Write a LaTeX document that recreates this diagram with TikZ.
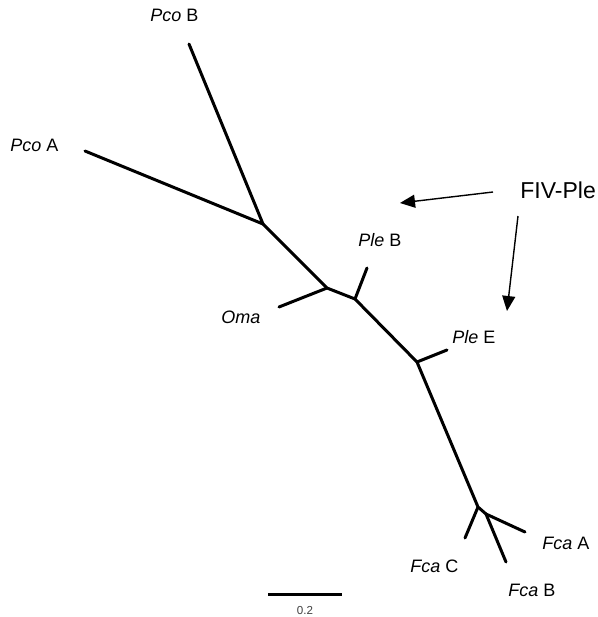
\documentclass[tikz,border=0pt]{standalone}
\usepackage{fontspec}
\setmainfont{Liberation Sans}
\usetikzlibrary{arrows.meta}

\begin{document}
\begin{tikzpicture}[
    x=0.5pt, y=-0.5pt,
    branch/.style={line width=1.5pt, line cap=round, line join=round},
    lbl/.style={anchor=west, inner sep=0pt, font=\fontsize{9}{10}\selectfont},
    arr/.style={line width=0.7pt, -{Triangle[length=7.5pt, width=6.5pt]}},
    scalebar/.style={line width=1.5pt}
  ]
  \useasboundingbox (0,0) rectangle (598,617);

  % ---- internal nodes of the tree ----
  \coordinate (n1) at (263,224);
  \coordinate (n2) at (327,288);
  \coordinate (n3) at (355,299);
  \coordinate (n4) at (417,362);
  \coordinate (n5) at (478,507);
  \coordinate (n6) at (486,514);

  % ---- tips ----
  \coordinate (tPcoB) at (189,44);
  \coordinate (tPcoA) at (85,151);
  \coordinate (tOma)  at (279,307);
  \coordinate (tPleB) at (367,268);
  \coordinate (tPleE) at (447,350);
  \coordinate (tFcaC) at (465,538);
  \coordinate (tFcaA) at (525,532);
  \coordinate (tFcaB) at (506,562);

  % ---- branches ----
  \draw[branch] (tPcoB) -- (n1) -- (tPcoA);
  \draw[branch] (n1) -- (n2) -- (n3) -- (n4) -- (n5) -- (n6);
  \draw[branch] (n2) -- (tOma);
  \draw[branch] (n3) -- (tPleB);
  \draw[branch] (n4) -- (tPleE);
  \draw[branch] (n5) -- (tFcaC);
  \draw[branch] (n6) -- (tFcaA);
  \draw[branch] (n6) -- (tFcaB);

  % ---- tip labels ----
  \node[lbl] (PcoB) at (150,15)  {\textit{Pco} B};
  \node[lbl] (PcoA) at (10,145)  {\textit{Pco} A};
  \node[lbl] (Oma)  at (221,317) {\textit{Oma}};
  \node[lbl] (PleB) at (358,240) {\textit{Ple} B};
  \node[lbl] (PleE) at (452,337) {\textit{Ple} E};
  \node[lbl] (FcaA) at (542,543) {\textit{Fca} A};
  \node[lbl] (FcaC) at (410,566) {\textit{Fca} C};
  \node[lbl] (FcaB) at (508,590) {\textit{Fca} B};

  % ---- FIV-Ple pointers ----
  \node[lbl, font=\fontsize{11.5}{13}\selectfont] (fiv) at (520,190) {FIV-Ple};
  \coordinate (a1s) at (493,192);
  \coordinate (a1e) at (400,203);
  \coordinate (a2s) at (518,216);
  \coordinate (a2e) at (507,311);
  \draw[arr] (a1s) -- (a1e);
  \draw[arr] (a2s) -- (a2e);

  % ---- scale bar ----
  \coordinate (sb1) at (268,594);
  \coordinate (sb2) at (342,594);
  \draw[scalebar] (sb1) -- (sb2);
  \node[inner sep=0pt, font=\fontsize{5.8}{7}\selectfont, text=black!75] (sbl) at (305,610) {0.2};

\end{tikzpicture}
\end{document}
